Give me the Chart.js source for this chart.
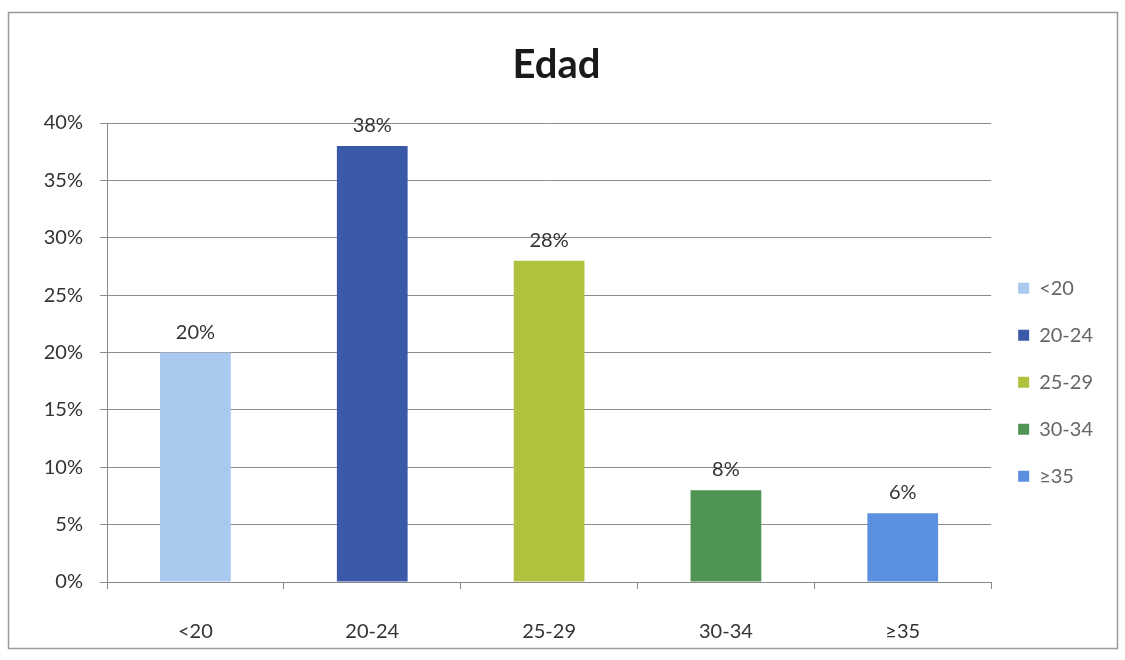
<!DOCTYPE html>
<html>
<head>
<meta charset="utf-8">
<script src="https://cdn.jsdelivr.net/npm/chart.js@4"></script>
<style>
  html, body { margin: 0; padding: 0; background: #fff; }
  #wrap { width: 1125px; height: 660px; }
</style>
</head>
<body>
<div id="wrap"><canvas id="edadChart" width="1125" height="660"></canvas></div>
<script>
const categories = ['<20', '20-24', '25-29', '30-34', '≥35'];
const values     = [20, 38, 28, 8, 6];
const barColors  = ['#a9c9ee', '#3b59a9', '#b0c13e', '#4f9452', '#5b8fe0'];
const yTicks     = [0, 5, 10, 15, 20, 25, 30, 35, 40];

const FONT = 'Lato, "Open Sans", sans-serif';

// value labels above each bar
const valueLabels = {
  id: 'valueLabels',
  afterDatasetsDraw(chart) {
    const ctx = chart.ctx;
    const meta = chart.getDatasetMeta(0);
    ctx.save();
    ctx.font = `20px ${FONT}`;
    ctx.fillStyle = '#333';
    ctx.textAlign = 'center';
    ctx.textBaseline = 'alphabetic';
    meta.data.forEach((bar, i) => {
      ctx.fillText(values[i] + '%', bar.x, bar.y - 14);
    });
    ctx.restore();
  }
};

// outer frame of the chart
const frame = {
  id: 'frame',
  beforeDraw(chart) {
    const ctx = chart.ctx;
    ctx.save();
    ctx.fillStyle = '#fff';
    ctx.fillRect(0, 0, chart.width, chart.height);
    ctx.strokeStyle = '#9a9a9a';
    ctx.lineWidth = 1.5;
    ctx.strokeRect(8.5, 12.5, 1109, 636);
    ctx.restore();
  }
};

new Chart(document.getElementById('edadChart'), {
  type: 'bar',
  data: {
    labels: categories,
    datasets: [{
      label: 'Edad',
      data: values,
      backgroundColor: barColors,
      borderWidth: 0,
      barPercentage: 0.4,
      categoryPercentage: 1.0
    }]
  },
  options: {
    responsive: false,
    animation: false,
    layout: { padding: { left: 10, right: 22, top: 41, bottom: 16 } },
    plugins: {
      title: {
        display: true,
        text: 'Edad',
        color: '#1a1a1a',
        font: { family: FONT, size: 40, weight: 'bold' },
        padding: { top: 0, bottom: 34 }
      },
      legend: {
        position: 'right',
        title: { display: true, text: ' ', font: { size: 12 }, padding: { top: 65, bottom: 0 } },
        labels: {
          color: '#2a2a2a',
          font: { family: FONT, size: 20 },
          boxWidth: 11,
          boxHeight: 11,
          padding: 27,
          generateLabels: () => categories.map((c, i) => ({
            text: c,
            fillStyle: barColors[i],
            strokeStyle: barColors[i],
            lineWidth: 0,
            index: i
          }))
        }
      },
      tooltip: { enabled: false }
    },
    scales: {
      x: {
        afterFit: axis => { axis.height = 62; },
        grid: {
          offset: true,
          drawOnChartArea: false,
          color: '#888',
          tickLength: 7
        },
        border: { color: '#888' },
        ticks: {
          color: '#333',
          font: { family: FONT, size: 20 },
          padding: 31
        }
      },
      y: {
        min: 0,
        max: 40,
        afterBuildTicks: axis => { axis.ticks = yTicks.map(v => ({ value: v })); },
        afterFit: axis => { axis.width = 97; },
        grid: { color: '#8c8c8c', tickLength: 7 },
        border: { color: '#888' },
        ticks: {
          color: '#333',
          font: { family: FONT, size: 20 },
          padding: 17,
          callback: v => v + '%'
        }
      }
    }
  },
  plugins: [frame, valueLabels]
});
</script>
</body>
</html>
